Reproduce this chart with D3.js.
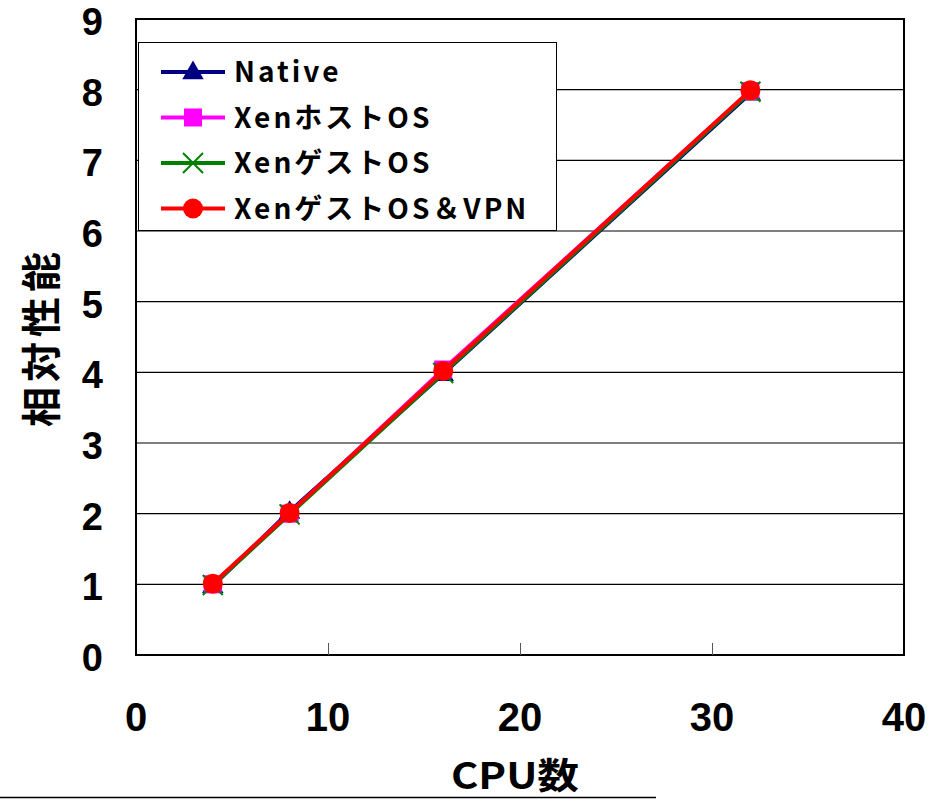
<!DOCTYPE html>
<html>
<head>
<meta charset="utf-8">
<script src="https://cdn.jsdelivr.net/npm/d3@7"></script>
<style>
  body { margin: 0; background: #fff; }
  svg { display: block; }
</style>
</head>
<body>
<div id="chart"></div>
<script>
var width = 942
var height = 802

// data
var cpus = [4, 8, 16, 32]
var seriesNames = ["Native", "XenホストOS", "XenゲストOS", "XenゲストOS＆VPN"]
var nativeValues = [0.98, 2.03, 3.98, 7.95]
var hostValues = [1.0, 2.0, 4.04, 7.98]
var guestValues = [0.99, 1.99, 3.99, 7.97]
var vpnValues = [1.01, 2.01, 4.02, 7.99]
var xTicks = [0, 10, 20, 30, 40]
var yTicks = [0, 1, 2, 3, 4, 5, 6, 7, 8, 9]

var series = [
    { name: seriesNames[0], values: nativeValues, color: '#000080', marker: 'triangle' },
    { name: seriesNames[1], values: hostValues, color: '#ff00ff', marker: 'square' },
    { name: seriesNames[2], values: guestValues, color: '#008000', marker: 'cross' },
    { name: seriesNames[3], values: vpnValues, color: '#ff0000', marker: 'circle' }
]

var plotLeft = 136, plotRight = 904, plotTop = 19, plotBottom = 655

var x = d3.scaleLinear().domain([0, 40]).range([plotLeft, plotRight])
var y = d3.scaleLinear().domain([0, 9]).range([plotBottom, plotTop])

var svg = d3.select('#chart')
    .append('svg')
    .attr('width', width)
    .attr('height', height)

// horizontal grid
svg.append('g')
    .selectAll('line')
    .data(yTicks.slice(1))
    .enter()
    .append('line')
    .attr('x1', plotLeft)
    .attr('x2', plotRight)
    .attr('y1', function (d) { return y(d) })
    .attr('y2', function (d) { return y(d) })
    .attr('stroke', '#000')
    .attr('stroke-width', 1.2)

// plot frame
svg.append('rect')
    .attr('x', plotLeft)
    .attr('y', plotTop)
    .attr('width', plotRight - plotLeft)
    .attr('height', plotBottom - plotTop)
    .attr('fill', 'none')
    .attr('stroke', '#000')
    .attr('stroke-width', 2)

// x axis ticks (inside, upward)
var xAxis = d3.axisBottom(x).tickValues(xTicks.slice(1, -1)).tickSize(-12).tickFormat('')
svg.append('g')
    .attr('transform', 'translate(0,' + plotBottom + ')')
    .call(xAxis)
    .call(function (g) {
        g.select('.domain').remove()
        g.selectAll('line').attr('stroke', '#555').attr('stroke-width', 1)
    })

svg.append('g')
    .selectAll('text')
    .data(xTicks)
    .enter()
    .append('text')
    .attr('x', function (d) { return x(d) })
    .attr('y', 731)
    .attr('text-anchor', 'middle')
    .attr('font-family', '"Liberation Sans", Arial, sans-serif')
    .attr('font-weight', 'bold')
    .attr('font-size', 40)
    .text(function (d) { return d })

// y labels
svg.append('g')
    .selectAll('text')
    .data(yTicks)
    .enter()
    .append('text')
    .attr('x', 103)
    .attr('y', function (d) { return y(d) + 16 })
    .attr('text-anchor', 'end')
    .attr('font-family', '"Liberation Sans", Arial, sans-serif')
    .attr('font-weight', 'bold')
    .attr('font-size', 38)
    .text(function (d) { return d })

// axis titles
svg.append('text')
    .attr('transform', 'translate(56,337) rotate(-90)')
    .attr('text-anchor', 'middle')
    .attr('font-family', '"Noto Sans CJK JP", sans-serif')
    .attr('font-weight', 'bold')
    .attr('font-size', 40)
    .attr('letter-spacing', 5)
    .text('相対性能')

svg.append('text')
    .attr('x', 515)
    .attr('y', 789)
    .attr('text-anchor', 'middle')
    .attr('font-family', '"Noto Sans CJK JP", sans-serif')
    .attr('font-size', 36)
    .attr('font-weight', 'bold')
    .attr('textLength', 128)
    .attr('lengthAdjust', 'spacingAndGlyphs')
    .text('CPU数')

svg.append('line')
    .attr('x1', 0).attr('x2', 656)
    .attr('y1', 797.5).attr('y2', 797.5)
    .attr('stroke', '#000')
    .attr('stroke-width', 1.5)

var line = d3.line()
    .x(function (d, i) { return x(cpus[i]) })
    .y(function (d) { return y(d) })

function drawMarker(g, type, color, cx, cy) {
    if (type === 'triangle') {
        g.append('path')
            .attr('d', d3.symbol().type(d3.symbolTriangle).size(200)())
            .attr('transform', 'translate(' + cx + ',' + (cy + 1) + ')')
            .attr('fill', color)
    } else if (type === 'square') {
        g.append('rect')
            .attr('x', cx - 9).attr('y', cy - 9)
            .attr('width', 18).attr('height', 18)
            .attr('fill', color)
    } else if (type === 'cross') {
        var s = 10
        g.append('path')
            .attr('d', 'M' + (cx - s) + ',' + (cy - s) + 'L' + (cx + s) + ',' + (cy + s) +
                'M' + (cx - s) + ',' + (cy + s) + 'L' + (cx + s) + ',' + (cy - s))
            .attr('stroke', color)
            .attr('stroke-width', 2)
    } else {
        g.append('circle')
            .attr('cx', cx).attr('cy', cy).attr('r', 10)
            .attr('fill', color)
    }
}

series.forEach(function (s) {
    var g = svg.append('g')
    g.append('path')
        .datum(s.values)
        .attr('d', line)
        .attr('fill', 'none')
        .attr('stroke', s.color)
        .attr('stroke-width', 4)
    s.values.forEach(function (v, i) {
        drawMarker(g, s.marker, s.color, x(cpus[i]), y(v))
    })
})

// legend
var legend = svg.append('g')
legend.append('rect')
    .attr('x', 138.5).attr('y', 42.5)
    .attr('width', 418).attr('height', 188)
    .attr('fill', '#fff')
    .attr('stroke', '#000')
    .attr('stroke-width', 1)

series.forEach(function (s, i) {
    var ly = 72 + i * 45.5
    legend.append('line')
        .attr('x1', 161).attr('x2', 225)
        .attr('y1', ly).attr('y2', ly)
        .attr('stroke', s.color)
        .attr('stroke-width', 4)
    drawMarker(legend, s.marker, s.color, 193, ly)
    legend.append('text')
        .attr('x', 234)
        .attr('y', ly + 10)
        .attr('font-family', '"Noto Sans CJK JP", sans-serif')
        .attr('font-weight', 'bold')
        .attr('font-size', 28)
        .attr('letter-spacing', 3)
        .text(s.name)
})
</script>
</body>
</html>
